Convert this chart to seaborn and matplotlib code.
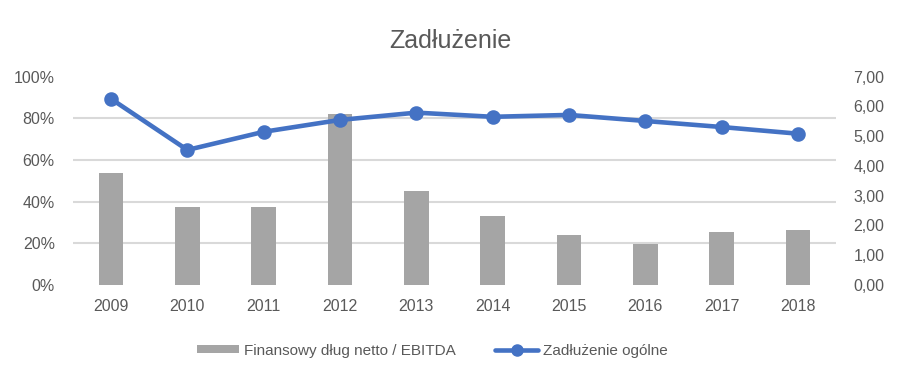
import numpy as np
import pandas as pd
import matplotlib
matplotlib.use("Agg")
import matplotlib.pyplot as plt
import seaborn as sns
from matplotlib.patches import Patch
from matplotlib.lines import Line2D
from matplotlib.ticker import FuncFormatter, NullFormatter

years = ["2009", "2010", "2011", "2012", "2013", "2014", "2015", "2016", "2017", "2018"]
dlug_ebitda = [3.76, 2.62, 2.62, 5.75, 3.16, 2.32, 1.68, 1.38, 1.78, 1.85]
zadluzenie = [0.893, 0.648, 0.735, 0.792, 0.827, 0.807, 0.816, 0.787, 0.758, 0.726]
bar_label = "Finansowy dług netto / EBITDA"
line_label = "Zadłużenie ogólne"
title = "Zadłużenie"

sns.set_theme(style="white")
plt.rcParams["font.family"] = ["Liberation Sans", "DejaVu Sans"]

txt = "#595959"
grid = "#d9d9d9"
bar_c = "#a5a5a5"
line_c = "#4472c4"

df = pd.DataFrame({"year": years, "ratio": dlug_ebitda, "debt": zadluzenie})

fig = plt.figure(figsize=(9, 3.81), dpi=100)
ax = fig.add_axes([0.081, 0.252, 0.848, 0.547])  # bars (right scale)
ax2 = ax.twinx()                                   # line (left scale)

sns.barplot(data=df, x="year", y="ratio", ax=ax, color=bar_c, width=0.32,
            saturation=1, edgecolor="none")
sns.pointplot(data=df, x="year", y="debt", ax=ax2, color=line_c,
              markers="o", linewidth=3.3, markersize=8)

ax.set_ylim(0, 7)
ax2.set_ylim(0, 1.0)
ax.set_xlim(-0.5, 9.5)

# bars' scale on the right, line's scale on the left
ax.yaxis.tick_right()
ax.yaxis.set_label_position("right")
ax2.yaxis.tick_left()
ax2.yaxis.set_label_position("left")

ax.set_yticks(np.arange(0, 7.01, 1))
ax.yaxis.set_major_formatter(FuncFormatter(lambda v, p: f"{v:.2f}".replace(".", ",")))
ax2.set_yticks(np.arange(0, 1.01, 0.2))
ax2.yaxis.set_major_formatter(FuncFormatter(lambda v, p: f"{v*100:.0f}%"))

# gridlines follow the left (percent) scale, drawn behind bars
ax.set_yticks(np.arange(0, 1.01, 0.2) * 7, minor=True)
ax.yaxis.set_minor_formatter(NullFormatter())
ax.yaxis.grid(False, which="major")
ax.yaxis.grid(True, which="minor", color=grid, linewidth=1.5)
ax.set_axisbelow(True)
ax2.grid(False)

for a in (ax, ax2):
    a.set_xlabel("")
    a.set_ylabel("")
    for s in a.spines.values():
        s.set_visible(False)
    a.tick_params(axis="both", which="both", length=0, labelsize=11.5, colors=txt, pad=6)
ax.tick_params(axis="x", pad=10)
ax.tick_params(axis="y", pad=12.5)
ax2.tick_params(axis="y", pad=13)

fig.suptitle(title, x=0.5, y=0.925, fontsize=18, color=txt)

handles = [Patch(facecolor=bar_c, edgecolor="none"),
           Line2D([0], [0], color=line_c, linewidth=3.3, marker="o", markersize=8)]
fig.legend(handles, [bar_label, line_label], loc="center", bbox_to_anchor=(0.48, 0.08),
           ncol=2, frameon=False, fontsize=11, labelcolor=txt,
           handlelength=2.8, handleheight=0.5, columnspacing=2.6, handletextpad=0.3)

fig.savefig("out.png", dpi=100)
